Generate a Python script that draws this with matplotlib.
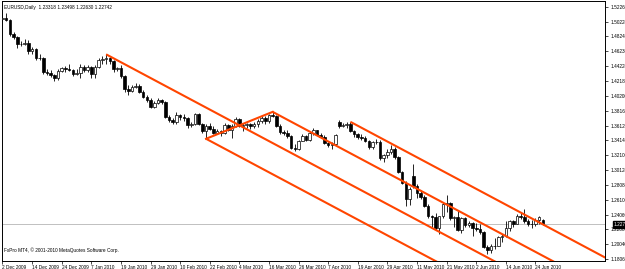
import matplotlib
matplotlib.use("Agg")
import matplotlib.pyplot as plt
import numpy as np

plt.rcParams['font.family'] = ['Liberation Sans', 'DejaVu Sans']

symbol_title = "EURUSD,Daily  1.23318 1.23498 1.22630 1.22742"
footer = "FxPro MT4, \u00a9 2001-2010 MetaQuotes Software Corp."

opens = [1.5065, 1.5075, 1.5045, 1.4850, 1.4815, 1.4720, 1.4725, 1.4735, 1.4620, 1.4650,
         1.4530, 1.4525, 1.4340, 1.4330, 1.4295, 1.4255, 1.4360, 1.4390, 1.4380, 1.4365,
         1.4320, 1.4330, 1.4410, 1.4370, 1.4410, 1.4310, 1.4405, 1.4510, 1.4520, 1.4535,
         1.4495, 1.4380, 1.4390, 1.4290, 1.4105, 1.4085, 1.4140, 1.4150, 1.4070, 1.4005,
         1.3960, 1.3865, 1.3925, 1.3960, 1.3935, 1.3735, 1.3690, 1.3660, 1.3755, 1.3730,
         1.3715, 1.3625, 1.3640, 1.3775, 1.3640, 1.3540, 1.3610, 1.3570, 1.3520, 1.3535,
         1.3515, 1.3625, 1.3560, 1.3615, 1.3700, 1.3610, 1.3625, 1.3630, 1.3610, 1.3640,
         1.3680, 1.3720, 1.3670, 1.3760, 1.3745, 1.3615, 1.3530, 1.3520, 1.3475, 1.3315,
         1.3300, 1.3410, 1.3475, 1.3420, 1.3510, 1.3550, 1.3490, 1.3465, 1.3380, 1.3350,
         1.3360, 1.3660, 1.3610, 1.3620, 1.3635, 1.3545, 1.3500, 1.3460, 1.3445, 1.3405,
         1.3320, 1.3385, 1.3390, 1.3175, 1.3215, 1.3250, 1.3295, 1.3185, 1.2985, 1.2835,
         1.2625, 1.2930, 1.2790, 1.2705, 1.2640, 1.2530, 1.2385, 1.2370, 1.2220, 1.2385,
         1.2555, 1.2565, 1.2355, 1.2380, 1.2195, 1.2355, 1.2270, 1.2295, 1.2225, 1.2215,
         1.2165, 1.1965, 1.1930, 1.1985, 1.1980, 1.2100, 1.2110, 1.2230, 1.2325, 1.2285,
         1.2390, 1.2380, 1.2315, 1.2285, 1.2275, 1.2335, 1.23318]
highs = [1.5100, 1.5135, 1.5060, 1.4880, 1.4830, 1.4765, 1.4785, 1.4780, 1.4680, 1.4660,
         1.4585, 1.4545, 1.4385, 1.4365, 1.4315, 1.4375, 1.4410, 1.4420, 1.4450, 1.4385,
         1.4380, 1.4455, 1.4440, 1.4435, 1.4420, 1.4435, 1.4535, 1.4560, 1.4580, 1.4545,
         1.4505, 1.4410, 1.4435, 1.4295, 1.4165, 1.4165, 1.4190, 1.4180, 1.4090, 1.4030,
         1.3990, 1.3945, 1.3985, 1.3980, 1.3945, 1.3760, 1.3715, 1.3800, 1.3770, 1.3775,
         1.3730, 1.3665, 1.3790, 1.3785, 1.3655, 1.3640, 1.3650, 1.3610, 1.3565, 1.3560,
         1.3650, 1.3640, 1.3640, 1.3730, 1.3715, 1.3650, 1.3655, 1.3650, 1.3660, 1.3700,
         1.3740, 1.3740, 1.3770, 1.3800, 1.3760, 1.3640, 1.3560, 1.3550, 1.3490, 1.3360,
         1.3425, 1.3495, 1.3490, 1.3535, 1.3575, 1.3560, 1.3510, 1.3480, 1.3395, 1.3385,
         1.3495, 1.3690, 1.3650, 1.3665, 1.3665, 1.3560, 1.3520, 1.3495, 1.3470, 1.3420,
         1.3405, 1.3435, 1.3420, 1.3235, 1.3295, 1.3350, 1.3330, 1.3195, 1.3000, 1.2860,
         1.2775, 1.3095, 1.2825, 1.2745, 1.2670, 1.2550, 1.2405, 1.2430, 1.2390, 1.2575,
         1.2675, 1.2580, 1.2390, 1.2460, 1.2380, 1.2370, 1.2325, 1.2310, 1.2290, 1.2285,
         1.2185, 1.1995, 1.2005, 1.2095, 1.2110, 1.2150, 1.2320, 1.2340, 1.2340, 1.2410,
         1.2430, 1.2485, 1.2350, 1.2335, 1.2355, 1.2385, 1.23498]
lows = [1.5030, 1.5035, 1.4830, 1.4790, 1.4660, 1.4690, 1.4705, 1.4585, 1.4585, 1.4510,
        1.4505, 1.4320, 1.4305, 1.4270, 1.4218, 1.4235, 1.4340, 1.4340, 1.4350, 1.4280,
        1.4305, 1.4260, 1.4345, 1.4340, 1.4265, 1.4260, 1.4400, 1.4450, 1.4445, 1.4445,
        1.4340, 1.4355, 1.4265, 1.4075, 1.4030, 1.4070, 1.4120, 1.4050, 1.3985, 1.3935,
        1.3850, 1.3855, 1.3900, 1.3900, 1.3720, 1.3660, 1.3630, 1.3640, 1.3690, 1.3680,
        1.3580, 1.3595, 1.3625, 1.3620, 1.3520, 1.3435, 1.3555, 1.3500, 1.3495, 1.3475,
        1.3500, 1.3535, 1.3450, 1.3600, 1.3590, 1.3540, 1.3580, 1.3570, 1.3585, 1.3600,
        1.3650, 1.3640, 1.3650, 1.3725, 1.3600, 1.3505, 1.3485, 1.3450, 1.3300, 1.3265,
        1.3280, 1.3400, 1.3400, 1.3410, 1.3490, 1.3480, 1.3440, 1.3360, 1.3320, 1.3290,
        1.3345, 1.3585, 1.3590, 1.3580, 1.3530, 1.3465, 1.3430, 1.3420, 1.3385, 1.3300,
        1.3290, 1.3360, 1.3150, 1.3115, 1.3180, 1.3235, 1.3160, 1.2965, 1.2820, 1.2525,
        1.2540, 1.2770, 1.2630, 1.2615, 1.2510, 1.2355, 1.2235, 1.2195, 1.2145, 1.2360,
        1.2440, 1.2340, 1.2235, 1.2180, 1.2160, 1.2240, 1.2235, 1.2110, 1.2190, 1.2150,
        1.1955, 1.1875, 1.1880, 1.1935, 1.1975, 1.2040, 1.2100, 1.2185, 1.2245, 1.2275,
        1.2345, 1.2295, 1.2255, 1.2230, 1.2255, 1.2275, 1.22630]
closes = [1.5075, 1.5045, 1.4850, 1.4815, 1.4720, 1.4725, 1.4735, 1.4620, 1.4650, 1.4530,
          1.4525, 1.4340, 1.4330, 1.4295, 1.4255, 1.4360, 1.4390, 1.4380, 1.4365, 1.4320,
          1.4330, 1.4410, 1.4370, 1.4410, 1.4310, 1.4405, 1.4510, 1.4520, 1.4535, 1.4495,
          1.4380, 1.4390, 1.4290, 1.4105, 1.4085, 1.4140, 1.4150, 1.4070, 1.4005, 1.3960,
          1.3865, 1.3925, 1.3960, 1.3935, 1.3735, 1.3690, 1.3660, 1.3755, 1.3730, 1.3715,
          1.3625, 1.3640, 1.3775, 1.3640, 1.3540, 1.3610, 1.3570, 1.3520, 1.3535, 1.3515,
          1.3625, 1.3560, 1.3615, 1.3700, 1.3610, 1.3625, 1.3630, 1.3610, 1.3640, 1.3680,
          1.3720, 1.3670, 1.3760, 1.3745, 1.3615, 1.3530, 1.3520, 1.3475, 1.3315, 1.3300,
          1.3410, 1.3475, 1.3420, 1.3510, 1.3550, 1.3490, 1.3465, 1.3380, 1.3350, 1.3360,
          1.3480, 1.3610, 1.3620, 1.3635, 1.3545, 1.3500, 1.3460, 1.3445, 1.3405, 1.3320,
          1.3385, 1.3390, 1.3175, 1.3215, 1.3250, 1.3295, 1.3185, 1.2985, 1.2835, 1.2625,
          1.2750, 1.2790, 1.2705, 1.2640, 1.2530, 1.2385, 1.2370, 1.2220, 1.2385, 1.2555,
          1.2565, 1.2355, 1.2380, 1.2195, 1.2355, 1.2270, 1.2295, 1.2225, 1.2215, 1.2165,
          1.1965, 1.1930, 1.1985, 1.1980, 1.2100, 1.2110, 1.2230, 1.2325, 1.2285, 1.2390,
          1.2380, 1.2315, 1.2285, 1.2275, 1.2335, 1.2380, 1.22742]

date_labels = ["2 Dec 2009", "14 Dec 2009", "24 Dec 2009", "7 Jan 2010", "19 Jan 2010",
               "29 Jan 2010", "10 Feb 2010", "22 Feb 2010", "4 Mar 2010", "16 Mar 2010",
               "26 Mar 2010", "7 Apr 2010", "19 Apr 2010", "29 Apr 2010", "11 May 2010",
               "21 May 2010", "2 Jun 2010", "14 Jun 2010", "24 Jun 2010"]
date_label_bars = [0, 8, 16, 24, 32, 40, 48, 56, 64, 72, 80, 88, 96, 104, 112, 120, 128, 136, 144]

price_ticks = [1.52260, 1.50220, 1.48240, 1.46230, 1.44220, 1.42180, 1.40200, 1.38160,
               1.36120, 1.34140, 1.32100, 1.30120, 1.28080, 1.26100, 1.24060, 1.22080,
               1.20040, 1.18060]

# pitchfork pivots (bar indices) and extra parallel line pivot
pf_a, pf_b, pf_c = 28, 55, 73
par_d = 94

o = np.array(opens); h = np.array(highs); l = np.array(lows); c = np.array(closes)
x = np.arange(len(o))

fig = plt.figure(figsize=(6.25, 2.69), dpi=100)
ax = fig.add_axes([2/625, 8/269, 603/625, 260/269])
ax.set_xlim(-0.135, 162.8)
ax.set_ylim(1.17777, 1.53033)

red = '#FF4500'
# current price line
ax.axhline(c[-1], color='#C0C0C0', lw=0.7, zorder=1)

# wicks
ax.vlines(x, l, h, color='black', lw=0.6, zorder=3)
bull = c >= o
bw = 0.7
ax.bar(x[bull], c[bull]-o[bull], bottom=o[bull], width=bw, color='white',
       edgecolor='black', linewidth=0.5, zorder=4)
ax.bar(x[~bull], o[~bull]-c[~bull], bottom=c[~bull], width=bw, color='black',
       edgecolor='black', linewidth=0.5, zorder=4)

# Andrews pitchfork
A = (pf_a, h[pf_a]); B = (pf_b, l[pf_b]); C = (pf_c, h[pf_c])
M = ((B[0]+C[0])/2, (B[1]+C[1])/2)
slope = (M[1]-A[1])/(M[0]-A[0])
xe = 200
for (px, py) in (A, B, C, (par_d, h[par_d])):
    ax.plot([px, xe], [py, py + slope*(xe-px)], color=red, lw=1.5, zorder=5,
            solid_capstyle='butt')
ax.plot([B[0], C[0]], [B[1], C[1]], color=red, lw=1.5, zorder=5)

# axes styling
for s in ax.spines.values():
    s.set_linewidth(0.7)
ax.yaxis.tick_right()
ax.set_yticks(price_ticks)
ax.set_yticklabels([f"{v:.5f}" for v in price_ticks])
ax.tick_params(axis='y', direction='out', length=2, width=0.5, labelsize=3.4, pad=2)
ax.set_xticks(date_label_bars)
ax.set_xticklabels(date_labels)
for lbl in ax.get_xticklabels():
    lbl.set_ha('left')
ax.tick_params(axis='x', direction='out', length=2, width=0.5, labelsize=3.4, pad=1)

# texts
ax.text(0.003, 0.985, symbol_title, transform=ax.transAxes, fontsize=3.4,
        va='top', ha='left')
ax.text(0.003, 0.04, footer, transform=ax.transAxes, fontsize=3.4,
        va='center', ha='left')
ax.annotate(f"{c[-1]:.5f}", xy=(1.0, c[-1]), xycoords=('axes fraction', 'data'),
            xytext=(6, 0), textcoords='offset points', fontsize=3.4, color='white',
            va='center', ha='left',
            bbox=dict(boxstyle='square,pad=0.15', fc='black', ec='black'))

fig.savefig("out.png", dpi=100)
